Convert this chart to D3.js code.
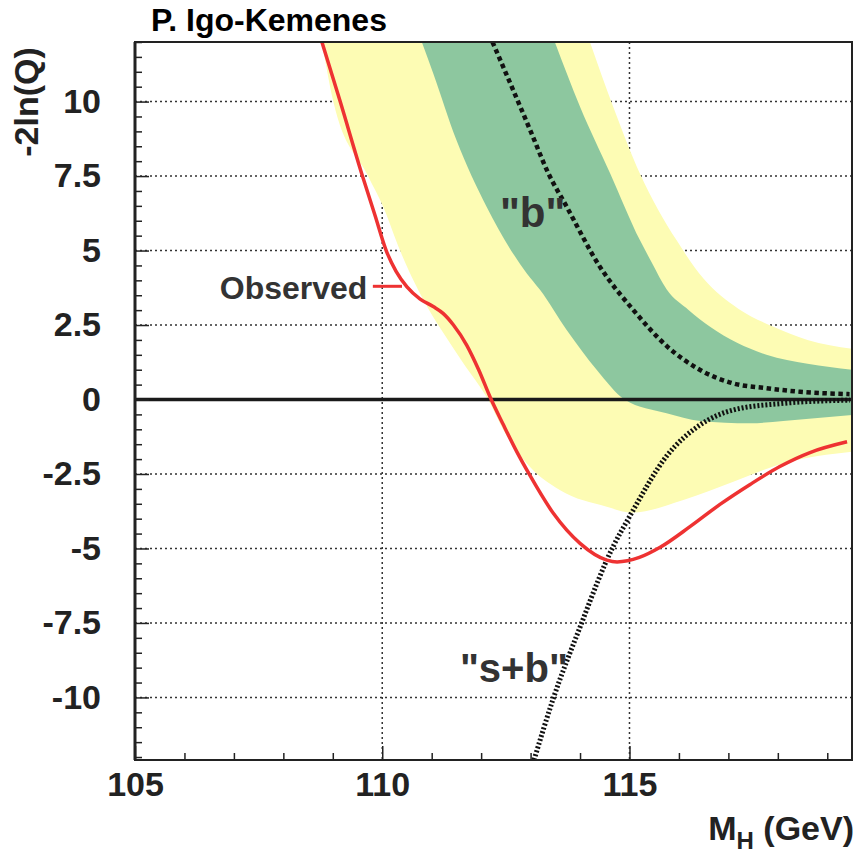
<!DOCTYPE html>
<html>
<head>
<meta charset="utf-8">
<script src="https://cdn.jsdelivr.net/npm/d3@7"></script>
<style>
  body { margin: 0; background: #fff; }
  text { font-family: "Liberation Sans", Arial, Helvetica, sans-serif; font-weight: bold; }
</style>
</head>
<body>
<div id="chart"></div>
<script>
// values: [M_H (GeV), -2ln(Q)]
var observed = [[108.78,12.0],[109.15,10.0],[109.6,7.5],[109.85,6.2],[110.08,5.0],[110.28,4.3],
  [110.5,3.78],[110.76,3.38],[111.03,3.12],[111.23,2.89],[111.44,2.5],[111.71,1.82],[111.95,1.0],
  [112.19,0.05],[112.45,-0.85],[112.72,-1.75],[112.97,-2.5],[113.46,-3.82],[114.0,-4.83],[114.54,-5.39],
  [114.75,-5.45],[115.2,-5.3],[115.62,-4.96],[116.23,-4.26],[116.83,-3.52],[117.44,-2.85],
  [118.04,-2.25],[118.65,-1.78],[119.4,-1.42]];

var expectedB = [[112.23,12.0],[112.99,9.05],[113.36,7.59],[113.73,6.47],[114.40,4.46],
  [115.08,3.0],[115.75,1.8],[116.43,0.99],[117.10,0.54],[117.77,0.38],[118.45,0.26],[119.45,0.18]];

var expectedSB = [[113.07,-12.1],[113.46,-10.03],[114.03,-7.51],[114.37,-6.06],[114.54,-5.39],
  [115.08,-3.7],[115.75,-1.9],[116.43,-0.85],[117.10,-0.35],[118.11,-0.13],[119.46,-0.02]];

// 2 sigma band (yellow): left/lower edge and right/upper edge
var band2Low = [[108.78,12.0],[109.01,10.0],[109.72,7.48],[110.02,6.47],[110.36,5.0],[110.66,3.9],
  [110.95,3.0],[111.25,2.2],[111.64,1.22],[112.14,0.0],[112.45,-1.02],[112.92,-2.14],[113.59,-3.04],
  [114.54,-3.6],[115.05,-3.8],[116.09,-3.37],[117.10,-2.76],[118.11,-2.14],[119.5,-1.75]];
var band2High = [[114.20,12.0],[114.67,9.83],[115.21,7.59],[115.95,5.35],[116.5,4.05],[117.2,3.05],
  [117.9,2.45],[118.6,2.0],[119.5,1.7]];

// 1 sigma band (green)
var band1Low = [[110.80,12.0],[111.03,10.95],[111.50,8.71],[112.11,6.47],[112.92,4.24],[113.19,3.68],
  [113.73,2.33],[114.34,0.99],[114.9,0.0],[115.75,-0.46],[116.43,-0.72],[117.44,-0.8],[118.11,-0.72],
  [119.5,-0.52]];
var band1High = [[113.49,12.0],[114.0,9.83],[114.61,7.59],[115.21,5.35],[115.45,4.6],[115.75,3.7],
  [116.2,3.0],[116.63,2.44],[117.77,1.5],[118.6,1.2],[119.5,1.0]];

var xTicks = [105, 110, 115];
var yTicks = [-10, -7.5, -5, -2.5, 0, 2.5, 5, 7.5, 10];
var xGrid = [110, 115];
var yGrid = [-10, -7.5, -5, -2.5, 2.5, 5, 7.5, 10];

var width = 857, height = 858;
var x = d3.scaleLinear().domain([105, 119.5]).range([135, 852]);
var y = d3.scaleLinear().domain([-12.1, 12.0]).range([760, 42]);

var svg = d3.select("#chart").append("svg")
    .attr("width", width)
    .attr("height", height);

svg.append("clipPath").attr("id", "plotclip")
  .append("rect")
    .attr("x", x(105)).attr("y", y(12.0))
    .attr("width", x(119.5) - x(105)).attr("height", y(-12.1) - y(12.0));

var plot = svg.append("g").attr("clip-path", "url(#plotclip)");

// dotted grid, lies under the bands
plot.selectAll(".gy")
    .data(yGrid)
  .enter().append("line")
    .attr("x1", x(105)).attr("x2", x(119.5))
    .attr("y1", function(d) { return y(d); })
    .attr("y2", function(d) { return y(d); })
    .attr("stroke", "#333").attr("stroke-width", 1.5).attr("stroke-dasharray", "2,3");

plot.selectAll(".gx")
    .data(xGrid)
  .enter().append("line")
    .attr("x1", function(d) { return x(d); })
    .attr("x2", function(d) { return x(d); })
    .attr("y1", y(12.0)).attr("y2", y(-12.1))
    .attr("stroke", "#333").attr("stroke-width", 1.5).attr("stroke-dasharray", "2,3");

var line = d3.line()
    .x(function(d) { return x(d[0]); })
    .y(function(d) { return y(d[1]); })
    .curve(d3.curveMonotoneX);

function bandPath(low, high) {
  var a = line(low);
  var b = line(high.slice().reverse());
  return a + "L" + b.slice(1) + "Z";
}

plot.append("path")
    .attr("d", bandPath(band2Low, band2High))
    .attr("fill", "#fdfcb4");

plot.append("path")
    .attr("d", bandPath(band1Low, band1High))
    .attr("fill", "#8dc79f");

// zero line
plot.append("line")
    .attr("x1", x(105)).attr("x2", x(119.5))
    .attr("y1", y(0)).attr("y2", y(0))
    .attr("stroke", "#1a1a1a").attr("stroke-width", 3.5);

plot.append("path")
    .datum(expectedB)
    .attr("d", line)
    .attr("fill", "none")
    .attr("stroke", "#111").attr("stroke-width", 4.5)
    .attr("stroke-dasharray", "4.5,3.5");

plot.append("path")
    .datum(expectedSB)
    .attr("d", line)
    .attr("fill", "none")
    .attr("stroke", "#111").attr("stroke-width", 5)
    .attr("stroke-dasharray", "2,2");

plot.append("path")
    .datum(observed)
    .attr("d", line)
    .attr("fill", "none")
    .attr("stroke", "#ee3232").attr("stroke-width", 3.5);

// axes, ticks pointing into the frame
var yMinor = d3.range(-12, 12.01, 0.5).filter(function(v) { return yTicks.indexOf(v) < 0; });
var xMinor = d3.range(106, 120, 1).filter(function(v) { return xTicks.indexOf(v) < 0; });

svg.append("g")
    .attr("transform", "translate(" + x(105) + ",0)")
    .call(d3.axisLeft(y).tickValues(yMinor).tickSize(-7).tickFormat(""))
    .call(function(g) { g.select(".domain").remove(); });

svg.append("g")
    .attr("class", "y axis")
    .attr("transform", "translate(" + x(105) + ",0)")
    .call(d3.axisLeft(y).tickValues(yTicks).tickSize(-14).tickPadding(34)
      .tickFormat(function(d) { return String(d); }))
    .call(function(g) { g.select(".domain").remove(); });

svg.append("g")
    .attr("transform", "translate(0," + y(-12.1) + ")")
    .call(d3.axisBottom(x).tickValues(xMinor).tickSize(-7).tickFormat(""))
    .call(function(g) { g.select(".domain").remove(); });

svg.append("g")
    .attr("class", "x axis")
    .attr("transform", "translate(0," + y(-12.1) + ")")
    .call(d3.axisBottom(x).tickValues(xTicks).tickSize(-14).tickPadding(12)
      .tickFormat(function(d) { return String(d); }))
    .call(function(g) { g.select(".domain").remove(); });

svg.selectAll(".tick line").attr("stroke", "#222").attr("stroke-width", 1.5);
svg.selectAll(".axis text")
    .attr("font-size", 34).attr("fill", "#222")
    .style("font-family", "'Liberation Sans', Arial, sans-serif").style("font-weight", "bold");

// frame
svg.append("rect")
    .attr("x", x(105)).attr("y", y(12.0))
    .attr("width", x(119.5) - x(105)).attr("height", y(-12.1) - y(12.0))
    .attr("fill", "none").attr("stroke", "#222").attr("stroke-width", 2);
svg.append("line")
    .attr("x1", x(105)).attr("x2", x(105))
    .attr("y1", y(12.0)).attr("y2", y(-12.1))
    .attr("stroke", "#222").attr("stroke-width", 3);

// titles
svg.append("text")
    .attr("x", 151).attr("y", 31)
    .attr("font-size", 32).attr("fill", "#000")
    .text("P. Igo-Kemenes");

svg.append("text")
    .attr("transform", "translate(38,102) rotate(-90)")
    .attr("text-anchor", "middle")
    .attr("font-size", 34).attr("fill", "#222")
    .text("-2ln(Q)");

var xt = svg.append("text")
    .attr("x", 854).attr("y", 840)
    .attr("text-anchor", "end")
    .attr("font-size", 34).attr("fill", "#222");
xt.append("tspan").text("M");
xt.append("tspan").attr("font-size", 24).attr("dy", 9).text("H");
xt.append("tspan").attr("dy", -9).text(" (GeV)");

// curve labels
svg.append("text")
    .attr("x", x(109.7)).attr("y", y(3.8) + 13)
    .attr("text-anchor", "end")
    .attr("font-size", 32).attr("fill", "#333")
    .text("Observed");
svg.append("line")
    .attr("x1", x(109.81)).attr("x2", x(110.4))
    .attr("y1", y(3.8)).attr("y2", y(3.8))
    .attr("stroke", "#ee3232").attr("stroke-width", 3);

svg.append("text")
    .attr("x", x(112.38)).attr("y", y(5.8))
    .attr("font-size", 42).attr("fill", "#333")
    .text("\"b\"");

svg.append("text")
    .attr("x", x(111.57)).attr("y", y(-9.47))
    .attr("font-size", 40).attr("fill", "#333")
    .text("\"s+b\"");
</script>
</body>
</html>
